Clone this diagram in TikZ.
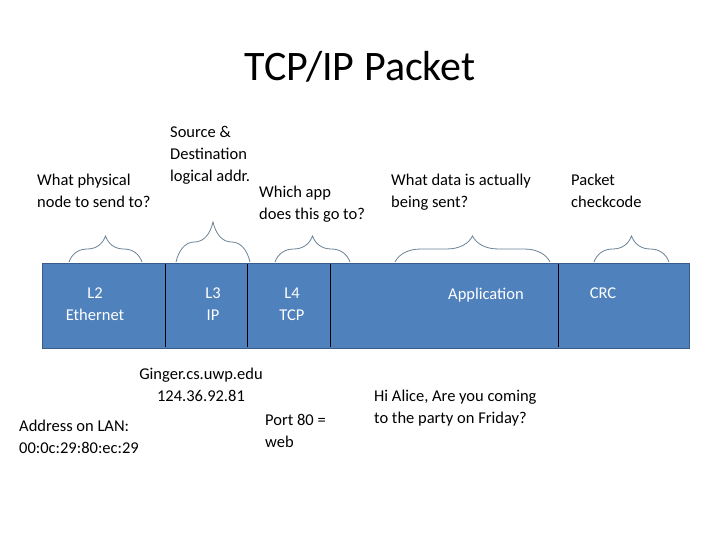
\documentclass[tikz,border=0pt]{standalone}
\usepackage{fontspec}
\setmainfont{Carlito}
\usetikzlibrary{decorations.pathreplacing}
\definecolor{barblue}{HTML}{4F81BD}
\definecolor{barline}{HTML}{385D8A}
\definecolor{bracecol}{HTML}{6A8196}
\tikzset{
  note/.style={anchor=north west, inner sep=0pt, align=left,
    font=\fontsize{16.5}{22}\selectfont},
  cnote/.style={note, anchor=north, align=center},
  cell/.style={anchor=north, inner sep=0pt, align=center, text=white,
    font=\fontsize{16.5}{22}\selectfont},
  hbrace/.style={draw=bracecol, thick,
    decorate, decoration={brace, amplitude=#1}},
}
\begin{document}
\begin{tikzpicture}[x=1pt, y=-1pt]
  \useasboundingbox (0,0) rectangle (720,540);
  \node[font=\fontsize{42}{48}\selectfont] (title) at (360,67) {TCP/IP Packet};

  % packet bar
  \draw[fill=barblue, draw=barline, thick] (42,263) rectangle (689,348);
  \foreach \x in {165,247,330,558}
    \draw[black] (\x,264) -- (\x,347);

  % braces
  \draw[hbrace=26] (69,262) -- (142,262) coordinate (b1);
  \draw[hbrace=40] (176,262) -- (250,262) coordinate (b2);
  \draw[hbrace=26] (275,262) -- (350,262) coordinate (b3);
  \draw[hbrace=26] (395,262) -- (550,262) coordinate (b4);
  \draw[hbrace=26] (594,262) -- (669,262) coordinate (b5);

  % labels above
  \node[note] (src) at (170,126) {Source \&\\Destination\\logical addr.};
  \node[note] (phys) at (37,174) {What physical\\node to send to?};
  \node[note] (app) at (259,186) {Which app\\does this go to?};
  \node[note] (data) at (391,174) {What data is actually\\being sent?};
  \node[note] (chk) at (571,174) {Packet\\checkcode};

  % cells
  \node[cell] (l2) at (95,288) {L2\\Ethernet};
  \node[cell] (l3) at (213,288) {L3\\IP};
  \node[cell] (l4) at (292,288) {L4\\TCP};
  \node[cell] (appl) at (486,288) {Application};
  \node[cell] (crc) at (603,288) {CRC};

  % labels below
  \node[cnote] (host) at (201,368) {Ginger.cs.uwp.edu\\124.36.92.81};
  \node[note] (lan) at (19,420) {Address on LAN:\\00:0c:29:80:ec:29};
  \node[note] (port) at (265,414) {Port 80 =\\web};
  \node[note] (msg) at (374,390) {Hi Alice, Are you coming\\to the party on Friday?};
\end{tikzpicture}
\end{document}
